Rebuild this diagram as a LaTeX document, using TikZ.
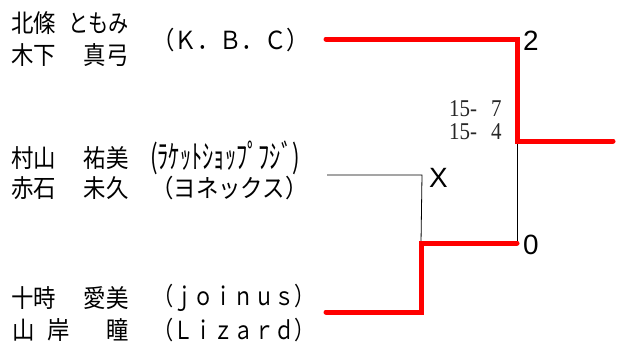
\documentclass[tikz,border=0pt]{standalone}
\usepackage{fontspec}
\setmainfont{Liberation Serif}
\newfontfamily\jp[FakeStretch=0.9]{Noto Sans CJK JP}
\newfontfamily\lsans{Liberation Sans}
\begin{document}
\begin{tikzpicture}[x=1bp,y=-1bp,
  win/.style={draw=red, line width=5bp, line cap=round, line join=miter},
  lose/.style={draw=black, line width=0.8bp},
  nm/.style={inner sep=0pt, font=\jp\fontsize{25}{28}\selectfont},
  club/.style={inner sep=0pt, anchor=west, font=\jp\fontsize{25}{28}\selectfont},
  res/.style={inner sep=0pt, anchor=west, font=\lsans\fontsize{28}{30}\selectfont},
  score/.style={inner sep=0pt, anchor=west, font=\fontsize{21}{22}\selectfont, text=black!85}]
\useasboundingbox (0,0) rectangle (620,349);
% names
\node[nm, anchor=west] (f1) at (11,23) {北條};
\node[nm, anchor=east] (g1) at (129,23) {\scalebox{0.9}[1]{ともみ}};
\node[nm, anchor=west] (f2) at (11,55) {木下};
\node[nm, anchor=east] (g2) at (129,55) {真弓};
\node[club] (c1) at (152,40) {（Ｋ．Ｂ．Ｃ）};
\node[nm, anchor=west] (f3) at (11,158) {村山};
\node[nm, anchor=east] (g3) at (129,158) {祐美};
\node[club] (c3) at (150,158) {\scalebox{1.0}[1.3]{(ﾗｹｯﾄｼｮｯﾌﾟﾌｼﾞ)}};
\node[nm, anchor=west] (f4) at (11,188) {赤石};
\node[nm, anchor=east] (g4) at (129,188) {未久};
\node[club] (c4) at (151,188) {（ヨネックス）};
\node[nm, anchor=west] (f5) at (11,298) {十時};
\node[nm, anchor=east] (g5) at (129,298) {愛美};
\node[club] (c5) at (153,298) {\scalebox{0.9}[1]{（ｊｏｉｎｕｓ）}};
\node[nm] (f6a) at (24,330) {山};
\node[nm] (f6b) at (59,330) {岸};
\node[nm, anchor=east] (g6) at (129,330) {瞳};
\node[club] (c6) at (153,330) {\scalebox{0.9}[1]{（Ｌｉｚａｒｄ）}};
% bracket points
\coordinate (a1) at (326,39);
\coordinate (a2) at (517,39);
\coordinate (a3) at (517,141);
\coordinate (a4) at (613,141);
\coordinate (m1) at (327,175);
\coordinate (m2) at (422,175);
\coordinate (b1) at (326,312);
\coordinate (b2) at (421,312);
\coordinate (b3) at (421,243);
\coordinate (b4) at (517,243);
% thin lines
\draw[lose] (m1) -- (m2) -- (b3);
\draw[lose] (a3) -- (b4);
% red lines
\draw[win] (a1) -- (a2) -- (a3) -- (a4);
\draw[win] (b1) -- (b2) -- (b3) -- (b4);
% results
\node[res] (r1) at (523,41) {2};
\node[res] (r2) at (429,178) {X};
\node[res] (r3) at (523,245) {0};
\node[score] (s1) at (449,109) {\scalebox{1}[1.15]{15-\hspace{14bp}7}};
\node[score] (s2) at (449,132) {\scalebox{1}[1.15]{15-\hspace{14bp}4}};
\end{tikzpicture}
\end{document}
